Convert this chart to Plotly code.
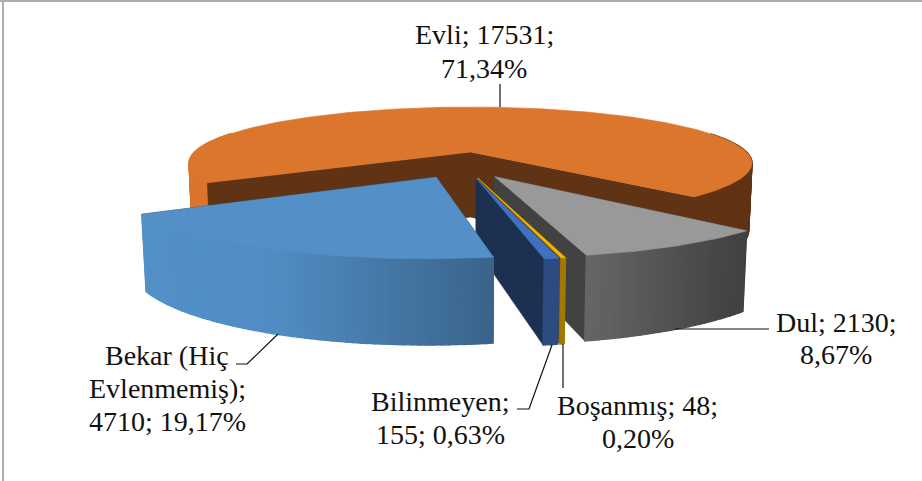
import numpy as np
import plotly.graph_objects as go

# ---- data ----
categories = ["Evli", "Dul", "Boşanmış", "Bilinmeyen", "Bekar (Hiç Evlenmemiş)"]
counts = [17531, 2130, 48, 155, 4710]
percents = ["71,34%", "8,67%", "0,20%", "0,63%", "19,17%"]
top_colors = ["#DD762D", "#999999", "#F4B400", "#4171BE", "#5390C8"]

# ---- label layout: one text per line with its centre position in the image ----
label_lines = [
    ("Evli; 17531;", 484, 34), ("71,34%", 484, 68),
    ("Dul; 2130;", 836, 322), ("8,67%", 836, 354),
    ("Boşanmış; 48;", 637.5, 405), ("0,20%", 638, 438),
    ("Bilinmeyen;", 439.5, 401), ("155; 0,63%", 440.5, 434),
    ("Bekar (Hiç", 167, 355), ("Evlenmemiş);", 167, 388), ("4710; 19,17%", 167, 421),
]
leaders = [
    [(500, 84), (500, 107)],
    [(236, 364), (247, 364), (278, 334)],
    [(517, 409), (529, 409), (552, 345)],
    [(563, 344), (563, 388)],
    [(675, 329), (769, 329)],
]

# ---- 3-D pie camera ----
START_DEG = 239.0
EXPLODE_X, EXPLODE_Y = 0.2175, 0.225
SHIFT_X = 0.0046
CX, Y0, A, B, PERSP = 470.5, 152.0, 276.0, 53.8, 0.196
WALL = 0.43
shade_x = [143, 270, 493, 590, 660, 746, 752]
shade_v = [1.0, 0.98, 0.69, 0.66, 0.55, 0.42, 0.43]


def rgb(hex_color, f=1.0):
    c = [int(hex_color[i:i + 2], 16) for i in (1, 3, 5)]
    return "rgb(%d,%d,%d)" % tuple(round(v * f) for v in c)


def project(X, Y):
    w = 1 + PERSP * Y
    return CX + A * X / w, Y0 - B * Y / w


def drop(sx, sy):
    h = 65 + 0.2 * (sy - Y0)
    return CX + (sx - CX) * (1 - h / 5900), sy + h


def poly(fig, xs, ys, color, lw=0.6):
    fig.add_trace(go.Scatter(
        x=list(xs) + [xs[0]], y=list(ys) + [ys[0]], mode="lines", fill="toself",
        fillcolor=color, line=dict(color=color, width=lw),
        hoverinfo="skip", showlegend=False))


fig = go.Figure()
shares = np.array(counts, dtype=float) / sum(counts) * 360.0
starts = START_DEG + np.concatenate(([0.0], np.cumsum(shares)[:-1]))
mids = starts + shares / 2
ref_dir = np.array([np.sin(np.radians(mids[0])), np.cos(np.radians(mids[0]))])

for i, name in enumerate(categories):
    col = top_colors[i]
    d = np.array([np.sin(np.radians(mids[i])), np.cos(np.radians(mids[i]))])
    ox = EXPLODE_X * (d[0] - ref_dir[0]) + (SHIFT_X if i else 0.0)
    oy = EXPLODE_Y * (d[1] - ref_dir[1])
    n = max(3, int(shares[i] * 0.9))
    ang = np.radians(np.linspace(starts[i], starts[i] + shares[i], n))
    rx, ry = project(ox + np.sin(ang), oy + np.cos(ang))
    ax, ay = project(ox, oy)
    bx, by = drop(rx, ry)
    abx, aby = drop(ax, ay)
    wall = rgb(col, WALL)

    def draw_walls():
        if i == 0:
            # concave slice: both walls as one outline, so no seam at the corner
            poly(fig, [rx[0], ax, rx[-1], bx[-1], abx, bx[0]],
                 [ry[0], ay, ry[-1], by[-1], aby, by[0]], wall)
        else:
            for k in (0, -1):
                poly(fig, [ax, rx[k], bx[k], abx], [ay, ry[k], by[k], aby], wall)

    def draw_side():
        for j in range(n - 1):
            if np.cos(ang[j]) > 0.35 and np.cos(ang[j + 1]) > 0.35:
                continue
            mx = (rx[j] + rx[j + 1]) / 2
            f = float(np.interp(mx, shade_x, shade_v))
            if i == 0 and mx > CX:
                f = WALL
            poly(fig, [rx[j], rx[j + 1], bx[j + 1], bx[j]],
                 [ry[j], ry[j + 1], by[j + 1], by[j]], rgb(col, f), lw=1.4)

    # the big slice is concave: its walls stand in front of its rim
    if i == 0:
        draw_side()
        draw_walls()
    else:
        draw_walls()
        draw_side()
    poly(fig, [ax] + list(rx), [ay] + list(ry), rgb(col))

annotations = [
    dict(x=x, y=y, xref="x", yref="y", text=t, showarrow=False, xanchor="center", yanchor="middle",
         font=dict(family="Liberation Serif", size=28, color="#111111"))
    for t, x, y in label_lines
]
shapes = [
    dict(type="path", xref="x", yref="y",
         path="M " + " L ".join(f"{x},{y}" for x, y in pts),
         line=dict(color="#111111", width=1.2))
    for pts in leaders
]
# chart frame
frame = dict(color="#ADADAD", width=2)
shapes += [
    dict(type="line", xref="x", yref="y", x0=0, x1=922, y0=1, y1=1, line=frame),
    dict(type="line", xref="x", yref="y", x0=3, x1=3, y0=0, y1=481, line=frame),
]

fig.update_layout(
    width=922, height=481, margin=dict(l=0, r=0, t=0, b=0),
    paper_bgcolor="white", plot_bgcolor="white", showlegend=False,
    xaxis=dict(range=[0, 922], visible=False, fixedrange=True),
    yaxis=dict(range=[481, 0], visible=False, fixedrange=True),
    annotations=annotations, shapes=shapes,
)
fig.write_html("out.html", config={"displayModeBar": False},
               post_script="document.body.style.margin='0';document.body.style.overflow='hidden';")
